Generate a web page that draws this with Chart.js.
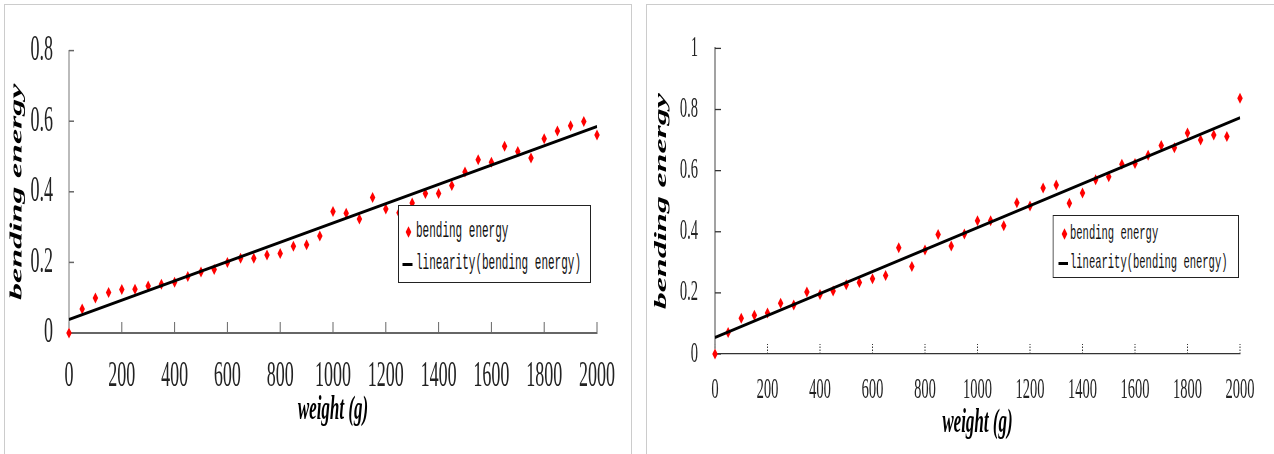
<!DOCTYPE html>
<html>
<head>
<meta charset="utf-8">
<script src="https://cdn.jsdelivr.net/npm/chart.js@4.4.0/dist/chart.umd.min.js"></script>
<style>
  html, body { margin: 0; padding: 0; background: #fff; overflow: hidden; width: 1274px; height: 454px; }
  .panel { position: absolute; top: 4px; height: 470px; border: 1px solid #cccccc; overflow: hidden; background: #fff; }
  #panelLeft { left: 4px; width: 626px; }
  #panelRight { left: 646px; width: 660px; }
  /* the source figure is squeezed sideways, so draw wide and squeeze */
  .stretch { position: absolute; left: 0; top: 0; height: 448px; transform: scaleX(0.5); transform-origin: 0 0; }
  .legend { position: absolute; background: #fff; border: 1px solid #222; border-left-width: 2px; border-right-width: 2px; box-sizing: border-box; font-family: "Liberation Mono", monospace; color: #111; }
  .legend .txt { position: absolute; white-space: nowrap; line-height: 26px; height: 26px; }
  .legend .diamond { position: absolute; width: 8px; height: 8px; background: #ff0000; transform: rotate(45deg); }
  .legend .dash { position: absolute; height: 3px; background: #000; }
</style>
</head>
<body>
<div class="panel" id="panelLeft">
  <div class="stretch" style="width:1252px">
    <canvas id="chartLeft" width="1252" height="448"></canvas>
    <div class="legend" id="legendLeft"></div>
  </div>
</div>
<div class="panel" id="panelRight">
  <div class="stretch" style="width:1254px">
    <canvas id="chartRight" width="1254" height="448"></canvas>
    <div class="legend" id="legendRight"></div>
  </div>
</div>
<script>
// weights in g, same for both panels
const weights = [0, 50, 100, 150, 200, 250, 300, 350, 400, 450, 500, 550, 600, 650, 700, 750, 800, 850, 900, 950,
                 1000, 1050, 1100, 1150, 1200, 1250, 1300, 1350, 1400, 1450, 1500, 1550, 1600, 1650, 1700, 1750,
                 1800, 1850, 1900, 1950, 2000];

const energyLeft = [0, 0.068, 0.099, 0.115, 0.123, 0.124, 0.133, 0.138, 0.144, 0.160, 0.173, 0.180, 0.200, 0.212,
                    0.212, 0.221, 0.225, 0.246, 0.250, 0.275, 0.344, 0.339, 0.323, 0.384, 0.351, 0.341, 0.368,
                    0.395, 0.395, 0.418, 0.456, 0.491, 0.484, 0.529, 0.514, 0.496, 0.550, 0.572, 0.587, 0.599, 0.561];

const energyRight = [0, 0.070, 0.117, 0.127, 0.134, 0.166, 0.160, 0.203, 0.195, 0.206, 0.227, 0.234, 0.246, 0.257,
                     0.348, 0.286, 0.340, 0.391, 0.353, 0.393, 0.436, 0.436, 0.420, 0.495, 0.484, 0.543, 0.553,
                     0.493, 0.527, 0.570, 0.580, 0.621, 0.623, 0.650, 0.682, 0.675, 0.723, 0.700, 0.717, 0.712, 0.837];

// fitted line end points
const trendX = [0, 2000];
const trendLeft = [0.038, 0.585];
const trendRight = [0.054, 0.773];

const seriesLabel = 'bending energy';
const trendLabel = 'linearity(bending energy)';
const xTitle = 'weight (g)';
const yTitle = 'bending energy';

Chart.defaults.font.family = '"Liberation Serif", serif';
Chart.defaults.color = '#222';

// small tick marks drawn inward from the axes
const innerTicks = {
    id: 'innerTicks',
    beforeDatasetsDraw(chart, args, o) {
        const {ctx, scales: {x, y}} = chart;
        ctx.save();
        ctx.strokeStyle = o.color;
        ctx.lineWidth = o.xWidth;
        ctx.setLineDash(o.xDash || []);
        x.ticks.forEach(t => {
            const px = x.getPixelForValue(t.value);
            ctx.beginPath();
            ctx.moveTo(px, y.bottom);
            ctx.lineTo(px, y.bottom - o.xLen);
            ctx.stroke();
        });
        ctx.setLineDash([]);
        ctx.lineWidth = o.yWidth;
        y.ticks.forEach(t => {
            const py = y.getPixelForValue(t.value);
            ctx.beginPath();
            ctx.moveTo(x.left, py);
            ctx.lineTo(x.left + o.yLen, py);
            ctx.stroke();
        });
        ctx.restore();
    }
};

function makeChart(id, values, trend, s) {
    return new Chart(document.getElementById(id), {
        type: 'scatter',
        data: {
            datasets: [
                {
                    label: seriesLabel,
                    data: weights.map((w, i) => ({x: w, y: values[i]})),
                    pointStyle: 'rectRot',
                    pointRadius: 5.5,
                    pointHoverRadius: 5.5,
                    backgroundColor: '#ff0000',
                    borderColor: '#ff0000',
                    borderWidth: 0,
                    clip: false,
                    order: 1
                },
                {
                    label: trendLabel,
                    data: trendX.map((w, i) => ({x: w, y: trend[i]})),
                    showLine: true,
                    borderColor: '#000',
                    borderWidth: 3,
                    pointRadius: 0,
                    clip: false,
                    order: 0
                }
            ]
        },
        options: {
            responsive: false,
            animation: false,
            layout: {padding: {top: s.top, right: s.right, left: 0, bottom: 0}},
            plugins: {
                legend: {display: false},
                tooltip: {enabled: false},
                innerTicks: s.ticks
            },
            scales: {
                x: {
                    type: 'linear',
                    min: 0,
                    max: 2000,
                    grid: {display: false},
                    border: {display: true, color: s.xBorder.color, width: s.xBorder.width, dash: s.xBorder.dash},
                    ticks: {stepSize: 200, autoSkip: false, maxRotation: 0, padding: s.xPad,
                            font: {size: s.tickSize}, color: '#222',
                            callback: v => String(v)},
                    title: {display: true, text: xTitle, color: '#000',
                            font: {size: 34, style: 'italic', weight: 'bold'},
                            padding: {top: 0, bottom: s.xTitlePad}},
                    afterFit: scale => { scale.height = s.xHeight; }
                },
                y: {
                    min: 0,
                    max: s.yMax,
                    grid: {display: false},
                    border: {display: true, color: s.yBorder, width: 2},
                    ticks: {stepSize: 0.2, padding: s.yPad, font: {size: s.tickSize}, color: '#222',
                            callback: v => String(Number(v.toFixed(1)))},
                    title: {display: true, text: yTitle, color: '#000',
                            font: {size: 34, style: 'italic', weight: 'bold'},
                            padding: {top: s.yTitlePad, bottom: 0}},
                    afterFit: scale => { scale.width = s.yWidth; }
                }
            }
        },
        plugins: [innerTicks]
    });
}

function makeLegend(id, chart, L) {
    let box = document.getElementById(id);
    box.style.left = L.left + 'px';
    box.style.top = L.top + 'px';
    box.style.width = L.width + 'px';
    box.style.height = L.height + 'px';
    box.style.fontSize = L.fontSize + 'px';
    chart.data.datasets.forEach((ds, i) => {
        let cy = L.rows[i];
        let mark = document.createElement('div');
        if (ds.showLine) {
            mark.className = 'dash';
            mark.style.left = L.dashX + 'px';
            mark.style.width = L.dashW + 'px';
            mark.style.top = (cy - 1.5) + 'px';
        } else {
            mark.className = 'diamond';
            mark.style.left = (L.diamondX - 4) + 'px';
            mark.style.top = (cy - 4) + 'px';
        }
        box.appendChild(mark);
        let txt = document.createElement('div');
        txt.className = 'txt';
        txt.textContent = ds.label;
        txt.style.left = L.textX + 'px';
        txt.style.top = (cy - 13) + 'px';
        box.appendChild(txt);
    });
}

let left = makeChart('chartLeft', energyLeft, trendLeft, {
    top: 30, right: 68, yWidth: 128, xHeight: 120, yMax: 0.8,
    tickSize: 36, xPad: 14, yPad: 24, xTitlePad: 22, yTitlePad: 4,
    xBorder: {color: '#666', width: 2, dash: []}, yBorder: '#777',
    ticks: {color: '#666', xLen: 11, xWidth: 2, yLen: 10, yWidth: 1.5}
});
makeLegend('legendLeft', left, {
    left: 786, top: 200, width: 386, height: 78, fontSize: 22,
    rows: [26, 58], diamondX: 19, dashX: 7, dashW: 20, textX: 34
});

let right = makeChart('chartRight', energyRight, trendRight, {
    top: 37.7, right: 68, yWidth: 136, xHeight: 99, yMax: 1,
    tickSize: 29, xPad: 11, yPad: 26, xTitlePad: 9, yTitlePad: 8.6,
    xBorder: {color: '#333', width: 1.3, dash: [2, 2]}, yBorder: '#444',
    ticks: {color: '#333', xLen: 10, xWidth: 2, xDash: [1.5, 1.5], yLen: 12, yWidth: 1.3}
});
makeLegend('legendRight', right, {
    left: 811, top: 210, width: 373, height: 63, fontSize: 21,
    rows: [18, 47], diamondX: 21.6, dashX: 9.6, dashW: 19, textX: 33
});
</script>
</body>
</html>
